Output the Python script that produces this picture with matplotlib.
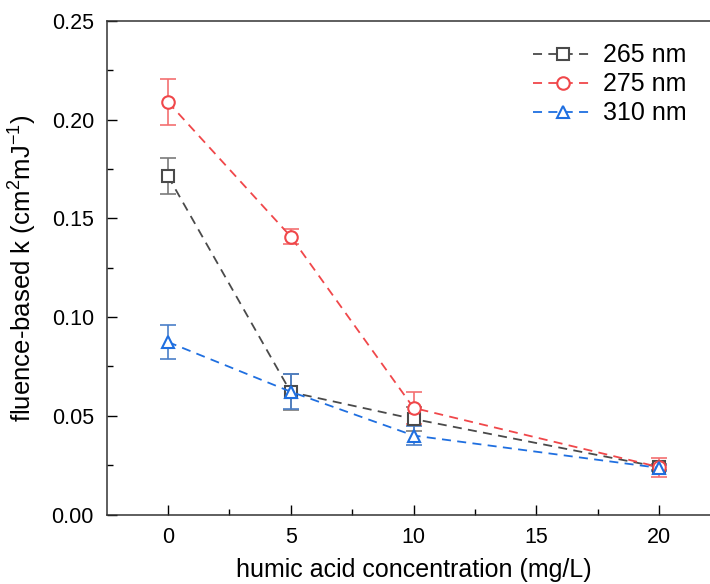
import numpy as np
import matplotlib.pyplot as plt

plt.rcParams['font.family'] = ['Liberation Sans', 'DejaVu Sans']
plt.rcParams['mathtext.default'] = 'regular'

# humic acid concentration (mg/L)
conc = [0, 5, 10, 20]

# fluence-based rate constants and errors
k_265 = [0.1715, 0.062, 0.0484, 0.0240]
err_265 = [0.0090, 0.0090, 0.0060, 0.0015]
k_275 = [0.209, 0.1408, 0.0540, 0.0240]
err_275 = [0.0117, 0.0040, 0.0080, 0.0048]
k_310 = [0.0874, 0.0622, 0.0400, 0.0236]
err_310 = [0.0085, 0.0090, 0.0050, 0.0015]

labels = ['265 nm', '275 nm', '310 nm']
markers = ['s', 'o', '^']
colors = ['#4a4a4a', '#f0474a', '#1f6fe0']
ecolors = ['#7a7a7a', '#f37071', '#4a7fc8']

fig = plt.figure(figsize=(7.10, 5.84), dpi=100)
ax = fig.add_axes([0.15, 0.119, 0.865, 0.845])

series = [(k_265, err_265), (k_275, err_275), (k_310, err_310)]
for (k, err), lab, m, c, ec in zip(series, labels, markers, colors, ecolors):
    ax.errorbar(conc, k, yerr=err, fmt='none', ecolor=ec, elinewidth=1.2,
                capsize=6, capthick=1.2, zorder=2)
    ax.plot(conc, k, linestyle=(0, (5, 3.5)), linewidth=1.3, color=c,
            marker=m, markersize=9, markerfacecolor='white',
            markeredgecolor=c, markeredgewidth=1.5, label=lab, zorder=3)

ax.set_xlim(-2.5, 22.5)
ax.set_ylim(0, 0.25)
ax.set_xticks([0, 5, 10, 15, 20])
ax.set_xticks([2.5, 7.5, 12.5, 17.5], minor=True)
ax.set_yticks([0, 0.05, 0.10, 0.15, 0.20, 0.25])
ax.set_yticks([0.025, 0.075, 0.125, 0.175, 0.225], minor=True)
ax.yaxis.set_major_formatter(plt.FuncFormatter(lambda v, p: f'{v:.2f}'))

ax.tick_params(which='major', direction='in', length=7, width=1,
               labelsize=15.5, pad=9)
ax.tick_params(which='minor', direction='in', length=4, width=1)
for s in ax.spines.values():
    s.set_linewidth(1.1)
    s.set_color('#333333')

ax.set_xlabel('humic acid concentration (mg/L)', fontsize=18, labelpad=7.5)
ax.set_ylabel('fluence-based k (cm$^{2}$mJ$^{-1}$)', fontsize=18.5, labelpad=9)

ax.legend(loc='upper left', bbox_to_anchor=(0.67, 0.985), frameon=False,
          fontsize=18, handlelength=2.4, labelspacing=0.2,
          handletextpad=0.4, borderaxespad=0.2)

fig.savefig('out.png', dpi=100)
